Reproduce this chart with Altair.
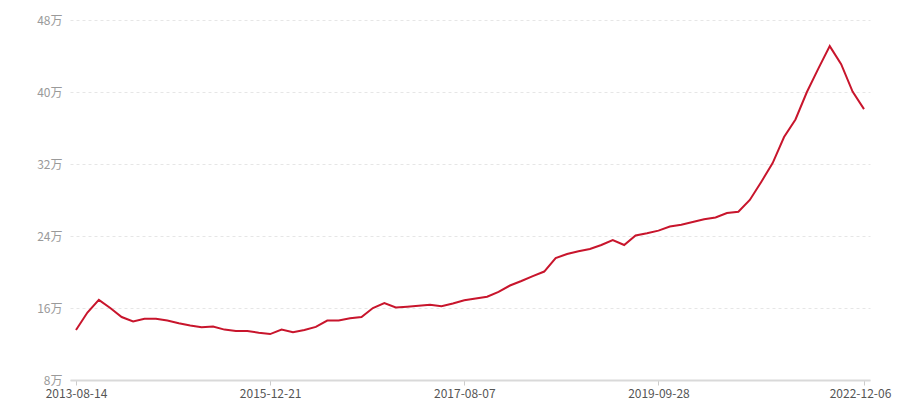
import altair as alt
import pandas as pd

dates = [
    "2013-08-14", "2013-10-03", "2013-11-22", "2014-01-11", "2014-03-03", "2014-04-22",
    "2014-06-11", "2014-07-31", "2014-09-19", "2014-11-08", "2014-12-28", "2015-02-16",
    "2015-04-07", "2015-05-27", "2015-07-16", "2015-09-04", "2015-10-24", "2015-12-21",
    "2016-01-25", "2016-02-29", "2016-04-04", "2016-05-09", "2016-06-13", "2016-07-18",
    "2016-08-22", "2016-09-26", "2016-10-31", "2016-12-05", "2017-01-09", "2017-02-13",
    "2017-03-20", "2017-04-24", "2017-05-29", "2017-07-03", "2017-08-07", "2017-09-22",
    "2017-11-07", "2017-12-23", "2018-02-07", "2018-03-25", "2018-05-10", "2018-06-25",
    "2018-08-10", "2018-09-25", "2018-11-10", "2018-12-26", "2019-02-10", "2019-03-28",
    "2019-05-13", "2019-06-28", "2019-08-13", "2019-09-28", "2019-12-02", "2020-02-05",
    "2020-04-10", "2020-06-14", "2020-08-18", "2020-10-22", "2020-12-26", "2021-03-01",
    "2021-05-05", "2021-07-09", "2021-09-12", "2021-11-16", "2022-01-20", "2022-03-26",
    "2022-05-30", "2022-08-03", "2022-10-07", "2022-12-06",
]

values = [
    13.56, 15.5, 16.9, 16.0, 15.0, 14.5, 14.8, 14.8, 14.6, 14.3,
    14.05, 13.85, 13.95, 13.6, 13.45, 13.45, 13.25, 13.1, 13.6, 13.3,
    13.55, 13.9, 14.6, 14.6, 14.85, 15.0, 16.0, 16.55, 16.05, 16.15,
    16.25, 16.35, 16.2, 16.5, 16.85, 17.05, 17.25, 17.8, 18.5, 19.0,
    19.55, 20.05, 21.55, 22.0, 22.3, 22.55, 23.0, 23.55, 23.0, 24.05,
    24.3, 24.6, 25.05, 25.25, 25.55, 25.85, 26.05, 26.55, 26.7, 28.0,
    30.0, 32.1, 35.0, 36.95, 40.0, 42.6, 45.1, 43.1, 40.05, 38.1,
]

label_dates = ["2013-08-14", "2015-12-21", "2017-08-07", "2019-09-28", "2022-12-06"]
y_ticks = [8, 16, 24, 32, 40, 48]

df = pd.DataFrame({"date": dates, "price": values})

font = "Noto Sans CJK SC"

chart = (
    alt.Chart(df)
    .mark_line(color="#c8152c", strokeWidth=2)
    .encode(
        x=alt.X(
            "date:O",
            sort=None,
            scale=alt.Scale(type="point", padding=0.525),
            axis=alt.Axis(
                values=label_dates,
                title=None,
                labelAngle=0,
                labelColor="#555555",
                labelFontSize=12,
                labelFont=font,
                labelPadding=3,
                labelOffset={
                    "condition": {"test": "datum.value === '2022-12-06'", "value": -4},
                    "value": 0,
                },
                tickSize=5,
                tickColor="#cccccc",
                domainColor="#d9d9d9",
                domainWidth=2,
                grid=False,
            ),
        ),
        y=alt.Y(
            "price:Q",
            scale=alt.Scale(domain=[8, 48], nice=False, zero=False),
            axis=alt.Axis(
                values=y_ticks,
                title=None,
                labelExpr="datum.value + '万'",
                labelColor="#9a9a9a",
                labelFontSize=12,
                labelFont=font,
                labelPadding=8,
                ticks=False,
                domain=False,
                grid=True,
                gridColor="#e6e6e6",
                gridDash=[3, 3],
            ),
        ),
    )
    .properties(
        width=800,
        height=360,
        autosize=alt.AutoSizeParams(type="none"),
        padding={"left": 62, "top": 12, "right": 22, "bottom": 20},
    )
    .configure_view(stroke=None)
)

chart.save("out.html", embed_options={"renderer": "svg", "actions": False})
